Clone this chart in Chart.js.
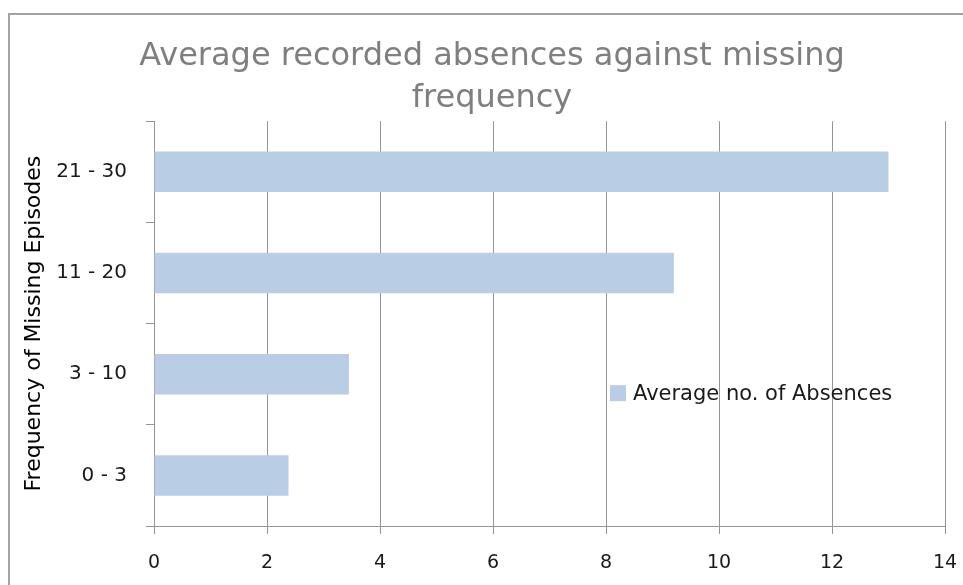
<!DOCTYPE html>
<html>
<head>
<meta charset="utf-8">
<script src="https://cdn.jsdelivr.net/npm/chart.js@4/dist/chart.umd.min.js"></script>
<style>
  html, body { margin: 0; padding: 0; background: #ffffff; overflow: hidden; width: 963px; height: 585px; }
  #frame {
    position: absolute; left: 8px; top: 13px;
    width: 966px; height: 580px;
    border-top: 2px solid #a3a3a3; border-left: 2px solid #a3a3a3;
    background: #ffffff;
  }
  #wrap { position: absolute; left: 0; top: 0; width: 964px; height: 570px; }
</style>
</head>
<body>
<div id="frame"><div id="wrap"><canvas id="chart"></canvas></div></div>
<script>
// Missing-episode frequency bands, listed top to bottom
const categories = ['21 - 30', '11 - 20', '3 - 10', '0 - 3'];
// Average number of recorded absences for each band
const averageAbsences = [13.0, 9.2, 3.45, 2.38];
const seriesName = 'Average no. of Absences';
const titleLines = ['Average recorded absences against missing', 'frequency'];
const axisTitle = 'Frequency of Missing Episodes';
const xTicks = [0, 2, 4, 6, 8, 10, 12, 14];

const FONT = "'DejaVu Sans', Verdana, sans-serif";
const BAR = '#b9cde5';
const GRID = '#959595';

// Legend drawn inside the plot area, to the right of the short bars
const insideLegend = {
  id: 'insideLegend',
  afterDraw(chart) {
    const { ctx, chartArea } = chart;
    const ds = chart.data.datasets[0];
    const x = chartArea.left + 456;
    const y = chartArea.top + 264;
    ctx.save();
    ctx.fillStyle = ds.backgroundColor;
    ctx.fillRect(x, y, 16, 16);
    ctx.fillStyle = '#1a1a1a';
    ctx.font = '21px ' + FONT;
    ctx.textBaseline = 'middle';
    ctx.textAlign = 'left';
    ctx.fillText(ds.label, x + 23, y + 9);
    ctx.restore();
  }
};

new Chart(document.getElementById('chart'), {
  type: 'bar',
  data: {
    labels: categories,
    datasets: [{
      label: seriesName,
      data: averageAbsences,
      backgroundColor: BAR,
      borderWidth: 0,
      categoryPercentage: 1.0,
      barPercentage: 0.4
    }]
  },
  options: {
    indexAxis: 'y',
    responsive: true,
    maintainAspectRatio: false,
    animation: false,
    events: [],
    layout: { padding: 0 },
    plugins: {
      legend: { display: false },
      tooltip: { enabled: false },
      title: {
        display: true,
        text: titleLines,
        color: '#7f7f7f',
        font: { family: FONT, size: 32, weight: 'normal', lineHeight: 1.3 },
        padding: { top: 21, bottom: 2 }
      }
    },
    scales: {
      x: {
        type: 'linear',
        min: 0,
        max: 14,
        afterBuildTicks(scale) { scale.ticks = xTicks.map(v => ({ value: v })); },
        afterFit(scale) { scale.height = 59; scale.paddingRight = 29; },
        grid: {
          color: GRID,
          lineWidth: 1,
          drawTicks: true,
          tickLength: 8,
          tickColor: GRID
        },
        border: { display: true, color: GRID, width: 1 },
        ticks: {
          color: '#1a1a1a',
          font: { family: FONT, size: 19 },
          padding: 18
        }
      },
      y: {
        type: 'category',
        afterFit(scale) { scale.width = 144; },
        grid: {
          offset: true,
          drawOnChartArea: false,
          drawTicks: true,
          tickLength: 8,
          tickColor: GRID
        },
        border: { display: true, color: GRID, width: 1 },
        ticks: {
          color: '#1a1a1a',
          font: { family: FONT, size: 20 },
          padding: 19
        },
        title: {
          display: true,
          text: axisTitle,
          color: '#000000',
          font: { family: FONT, size: 22 },
          padding: { top: 11, bottom: 0 }
        }
      }
    }
  },
  plugins: [insideLegend]
});
</script>
</body>
</html>
